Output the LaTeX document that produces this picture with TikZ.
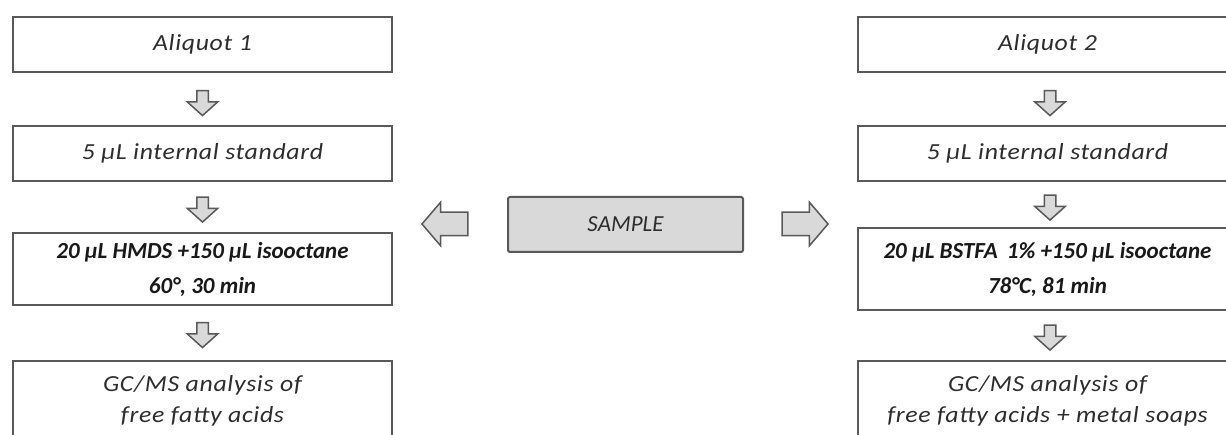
\documentclass[tikz,border=0pt]{standalone}
\usepackage{fontspec}
\setmainfont{Carlito}
\newfontfamily\stepfont[FakeStretch=1.12,LetterSpace=3]{Carlito}
\usetikzlibrary{shapes.arrows}

\definecolor{edgegray}{RGB}{89,89,89}
\definecolor{fillgray}{RGB}{217,217,217}
\definecolor{txtgray}{RGB}{45,45,45}

\tikzset{
  stepbox/.style={draw=edgegray,line width=2pt,fill=white,
    minimum width=379pt,minimum height=55pt,inner sep=0pt,align=center,
    text=txtgray,font=\stepfont\fontsize{23}{31}\selectfont\itshape},
  boldbox/.style={stepbox,minimum height=72pt,text=black!90,
    font=\fontsize{23}{35}\selectfont\bfseries\itshape},
  samplebox/.style={stepbox,fill=fillgray,minimum width=235pt,rounded corners=2pt,
    font=\fontsize{23}{31}\selectfont\itshape},
  downarr/.style={single arrow,draw=edgegray,fill=fillgray,line width=1.5pt,
    shape border rotate=270,minimum height=25pt,inner sep=5pt,
    single arrow head extend=9.5pt,single arrow tip angle=96},
  sidearr/.style={single arrow,draw=edgegray,fill=fillgray,line width=1.5pt,
    minimum height=46pt,inner sep=11pt,
    single arrow head extend=10pt,single arrow tip angle=99}
}

\begin{document}
\begin{tikzpicture}[x=1pt,y=-1pt]
  \useasboundingbox (0,0) rectangle (1226,435);
  \clip (0,0) rectangle (1226,435);

  % centre
  \node[samplebox] (sample) at (625.5,224.5) {SAMPLE};
  \node[sidearr,shape border rotate=180] (toleft) at (450,224) {};
  \node[sidearr] (toright) at (800,224) {};

  % aliquot 1
  \node[stepbox] (aliq1) at (202.5,44.5) {Aliquot 1};
  \node[stepbox] (istd1) at (202.5,153.5) {5 µL internal standard};
  \node[boldbox] (deriv1) at (202.5,269) {20 µL HMDS +150 µL isooctane\\60°, 30 min};
  \node[stepbox,minimum height=80pt,anchor=north] (gcms1) at (202.5,360)
    {GC/MS analysis of\\free fatty acids};
  \node[downarr] (down1a) at (202.5,100.5) {};
  \node[downarr] (down1b) at (202.5,207) {};
  \node[downarr] (down1c) at (202.5,332.5) {};

  % aliquot 2
  \node[stepbox] (aliq2) at (1047.5,44.5) {Aliquot 2};
  \node[stepbox] (istd2) at (1047.5,153.5) {5 µL internal standard};
  \node[boldbox,minimum height=82pt] (deriv2) at (1047.5,269)
    {20 µL BSTFA\ \,1\% +150 µL isooctane\\78°C, 81 min};
  \node[stepbox,minimum height=80pt,anchor=north] (gcms2) at (1047.5,360)
    {GC/MS analysis of\\free fatty acids + metal soaps};
  \node[downarr] (down2a) at (1050,100.5) {};
  \node[downarr] (down2b) at (1050,205) {};
  \node[downarr] (down2c) at (1050,335) {};
\end{tikzpicture}
\end{document}
